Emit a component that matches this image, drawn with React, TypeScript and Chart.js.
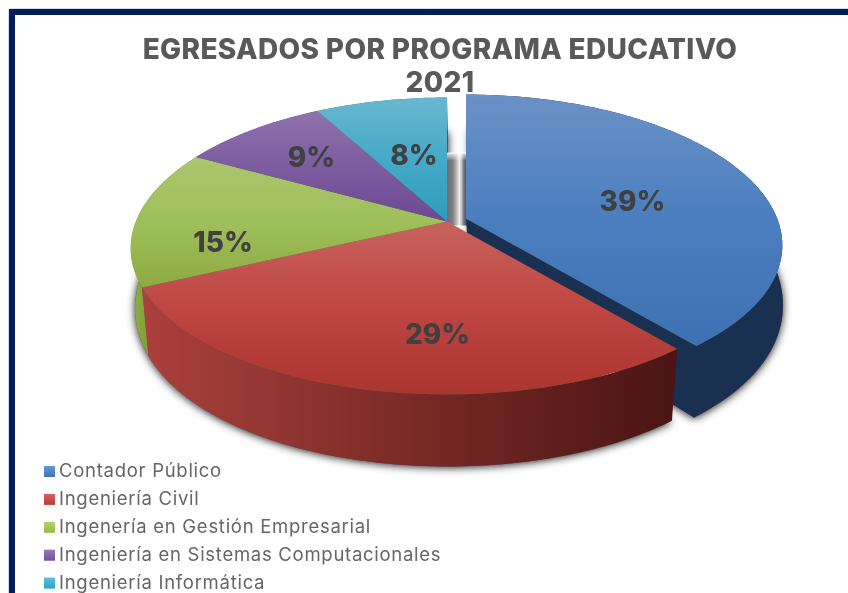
import React, { useEffect, useRef } from "react";
import { Chart, registerables } from "chart.js";

Chart.register(...registerables);

const categories = [
  "Contador Público",
  "Ingeniería Civil",
  "Ingenería en Gestión Empresarial",
  "Ingeniería en Sistemas Computacionales",
  "Ingeniería Informática",
];
const shares = [39, 29, 15, 9, 8];
const titleLines = ["EGRESADOS POR PROGRAMA EDUCATIVO", "2021"];

const topShades = [
  ["#6b91c6", "#4a7ebf", "#3d71b2"],
  ["#c8625e", "#bf4642", "#ab3531"],
  ["#abc66f", "#9fbf5a", "#8cab42"],
  ["#8f72ad", "#7d5ca0", "#6d4892"],
  ["#68b7cf", "#45a9c8", "#2e9dbd"],
];
const wallShades = [
  ["#1a3050", "#1a3050"],
  ["#ab403c", "#4a1513"],
  ["#8bab42", "#7f9e39"],
  ["#5b3c79", "#5b3c79"],
  ["#277f99", "#277f99"],
];
const legendShades = [
  ["#6a96d2", "#3f74b8"],
  ["#d8605c", "#b93a36"],
  ["#b6d46e", "#94b94a"],
  ["#9677bd", "#7350a0"],
  ["#5cc0dc", "#2ea4c6"],
];
const labelNudge = [
  [-3, 13],
  [36, 21],
  [-38, 25],
  [-13, -6],
  [9, 12],
];

type Shape = { ax: number; ay: number; A: number; B: number; k: number; kx: number };

const project = (s: Shape, a: number, r = 1) => {
  const sin = Math.sin(a);
  return [
    s.ax + (s.A * r * Math.cos(a)) / (1 - s.kx * r * sin),
    s.ay + (s.B * r * sin) / (1 - s.k * r * sin),
  ];
};

const arcPath = (ctx: CanvasRenderingContext2D, s: Shape, a0: number, a1: number, first: boolean) => {
  const n = Math.max(8, Math.ceil(Math.abs(a1 - a0) * 60));
  for (let i = 0; i <= n; i++) {
    const a = a0 + ((a1 - a0) * i) / n;
    const [x, y] = project(s, a);
    if (first && i === 0) ctx.moveTo(x, y);
    else ctx.lineTo(x, y);
  }
};

const shapesFor = (el: any, index: number) => {
  const r = el.outerRadius;
  const dx = index === 0 ? 26 : 7;
  const dy = index === 0 ? -3 : 0;
  const top: Shape = { ax: el.x + dx, ay: el.y + dy, A: r * 2.56, B: r * 1.188, k: 0.165, kx: 0.18 };
  const base: Shape = {
    ax: el.x + dx + (index === 0 ? 4 : 1),
    ay: el.y + dy + r * 0.498,
    A: r * 2.543,
    B: r * 1.366,
    k: 0.1,
    kx: 0.156,
  };
  return { top, base };
};

const piePlugin = {
  id: "perspectivePie",
  beforeDraw(chart: any) {
    const ctx = chart.ctx;
    ctx.save();
    ctx.fillStyle = "#ffffff";
    ctx.fillRect(0, 0, chart.width, chart.height);
    ctx.strokeStyle = "#dcdcdc";
    ctx.lineWidth = 1;
    ctx.beginPath();
    ctx.moveTo(8.5, 593);
    ctx.lineTo(8.5, 11);
    ctx.quadraticCurveTo(8.5, 8.5, 11, 8.5);
    ctx.lineTo(848, 8.5);
    ctx.stroke();
    ctx.strokeStyle = "#001f5f";
    ctx.lineWidth = 6;
    ctx.beginPath();
    ctx.moveTo(12, 593);
    ctx.lineTo(12, 12);
    ctx.lineTo(848, 12);
    ctx.stroke();
    ctx.restore();
    ctx.letterSpacing = "0.35px";
  },
  beforeDatasetsDraw(chart: any) {
    const ctx: CanvasRenderingContext2D = chart.ctx;
    const arcs = chart.getDatasetMeta(0).data;
    const info = arcs.map((el: any, i: number) => ({
      el,
      i,
      a0: el.startAngle,
      a1: el.endAngle,
      ...shapesFor(el, i),
    }));

    ctx.save();
    // soft ground shadow: one for the pulled-out slice, one for the remaining pie
    ctx.shadowColor = "rgba(0,0,0,0.9)";
    ctx.shadowBlur = 8;
    ctx.shadowOffsetY = 1;
    ctx.fillStyle = "#555555";
    const b = info[0];
    ctx.beginPath();
    ctx.moveTo(b.base.ax, b.base.ay);
    arcPath(ctx, b.base, b.a0, b.a1, false);
    ctx.closePath();
    ctx.fill();
    const rest = info[1];
    const last = info[info.length - 1];
    ctx.beginPath();
    ctx.moveTo(rest.base.ax, rest.base.ay);
    arcPath(ctx, rest.base, rest.a0, last.a1, false);
    ctx.closePath();
    ctx.fill();
    ctx.restore();

    // grey shaded strip seen through the gap
    ctx.save();
    const gapL = rest.top.ax;
    const gapR = b.top.ax + 1;
    const gapT = rest.top.ay - rest.top.B * 0.47;
    const gapB = rest.top.ay + 4;
    const g = ctx.createLinearGradient(gapL, 0, gapR, 0);
    g.addColorStop(0, "#6f6f6f");
    g.addColorStop(0.28, "#7f7f7f");
    g.addColorStop(0.45, "#b0b0b0");
    g.addColorStop(0.62, "#eeeeee");
    g.addColorStop(0.72, "#c4c4c4");
    g.addColorStop(0.85, "#6f6f6f");
    g.addColorStop(1, "#555555");
    ctx.fillStyle = g;
    ctx.fillRect(gapL, gapT, gapR - gapL, gapB - gapT);
    const fade = ctx.createLinearGradient(0, gapT - 1, 0, gapT + 7);
    fade.addColorStop(0, "rgba(255,255,255,0.85)");
    fade.addColorStop(1, "rgba(255,255,255,0)");
    ctx.fillStyle = fade;
    ctx.fillRect(gapL, gapT - 1, gapR - gapL, 8);
    ctx.restore();

    const wall = (o: any) => {
      const [x0] = project(o.top, o.a1 > Math.PI / 2 ? Math.min(o.a1, Math.PI) : o.a1);
      const [x1] = project(o.base, o.a0);
      const grad = ctx.createLinearGradient(Math.min(x0, x1), 0, Math.max(x0, x1), 0);
      grad.addColorStop(0, wallShades[o.i][0]);
      grad.addColorStop(1, wallShades[o.i][1]);
      ctx.fillStyle = grad;
      ctx.beginPath();
      arcPath(ctx, o.top, o.a0, o.a1, true);
      arcPath(ctx, o.base, o.a1, o.a0, false);
      ctx.closePath();
      ctx.fill();
    };

    // the pulled-out slice's wall and its visible cut face
    wall(b);
    const tipTop = project(b.top, b.a1);
    const tipBase = project(b.base, b.a1);
    ctx.fillStyle = wallShades[0][0];
    ctx.strokeStyle = wallShades[0][0];
    ctx.lineWidth = 1.5;
    ctx.beginPath();
    ctx.moveTo(b.top.ax, b.top.ay);
    ctx.lineTo(tipTop[0], tipTop[1]);
    ctx.lineTo(tipBase[0], tipBase[1]);
    ctx.lineTo(b.base.ax, b.base.ay);
    ctx.closePath();
    ctx.fill();
    ctx.beginPath();
    ctx.moveTo(tipTop[0], tipTop[1]);
    ctx.lineTo(tipBase[0], tipBase[1]);
    ctx.stroke();
    [...info.slice(1)].reverse().forEach(wall);

    // top faces
    info.forEach((o: any) => {
      const pts = [project(o.top, o.a0), project(o.top, o.a1), [o.top.ax, o.top.ay]];
      for (let t = 0; t <= 12; t++) pts.push(project(o.top, o.a0 + ((o.a1 - o.a0) * t) / 12));
      const ys = pts.map((p) => p[1]);
      const grad = ctx.createLinearGradient(0, Math.min(...ys), 0, Math.max(...ys));
      grad.addColorStop(0, topShades[o.i][0]);
      grad.addColorStop(0.5, topShades[o.i][1]);
      grad.addColorStop(1, topShades[o.i][2]);
      ctx.fillStyle = grad;
      ctx.beginPath();
      ctx.moveTo(o.top.ax, o.top.ay);
      arcPath(ctx, o.top, o.a0, o.a1, false);
      ctx.closePath();
      ctx.fill();
    });

    // percentage labels
    ctx.save();
    ctx.letterSpacing = "0px";
    ctx.font = "800 28px Inter, 'Open Sans', sans-serif";
    ctx.fillStyle = "#404040";
    ctx.textAlign = "center";
    ctx.textBaseline = "middle";
    const values: number[] = chart.data.datasets[0].data;
    const total = values.reduce((s, v) => s + v, 0);
    info.forEach((o: any) => {
      const [x, y] = project(o.top, (o.a0 + o.a1) / 2, 0.6);
      const pct = Math.round((values[o.i] / total) * 100);
      ctx.fillText(`${pct}%`, x + labelNudge[o.i][0], y + labelNudge[o.i][1]);
    });
    ctx.restore();
    return false;
  },
  afterDraw(chart: any) {
    const ctx: CanvasRenderingContext2D = chart.ctx;
    ctx.save();
    ctx.letterSpacing = "0.72px";
    ctx.font = "400 18.5px Inter, 'Open Sans', sans-serif";
    ctx.textAlign = "left";
    ctx.textBaseline = "middle";
    (chart.data.labels as string[]).forEach((label, i) => {
      const cy = 471.5 + i * 27.9;
      const g = ctx.createLinearGradient(0, cy - 5.5, 0, cy + 5.5);
      g.addColorStop(0, legendShades[i][0]);
      g.addColorStop(1, legendShades[i][1]);
      ctx.fillStyle = g;
      ctx.fillRect(44, cy - 5.5, 11, 11);
      ctx.fillStyle = "#666666";
      ctx.fillText(label, 59, cy);
    });
    ctx.restore();
  },
};

export default function App() {
  const ref = useRef<HTMLCanvasElement | null>(null);
  useEffect(() => {
    document.body.style.margin = "0";
    const chart = new Chart(ref.current as HTMLCanvasElement, {
      type: "pie",
      data: {
        labels: categories,
        datasets: [{ data: shares, backgroundColor: topShades.map((s) => s[1]), borderWidth: 0 }],
      },
      plugins: [piePlugin],
      options: {
        responsive: false,
        animation: false,
        layout: { padding: { left: 32, right: 0, top: 0, bottom: 250 } },
        plugins: {
          legend: { display: false },
          tooltip: { enabled: false },
          title: {
            display: true,
            text: titleLines,
            color: "#595959",
            font: { family: "Inter, 'Open Sans', sans-serif", size: 28, weight: 800, lineHeight: 1.177 },
            padding: { top: 34, bottom: 0 },
          },
        },
      },
    } as any);
    return () => chart.destroy();
  }, []);
  return <canvas ref={ref} width={848} height={593} style={{ display: "block" }} />;
}
